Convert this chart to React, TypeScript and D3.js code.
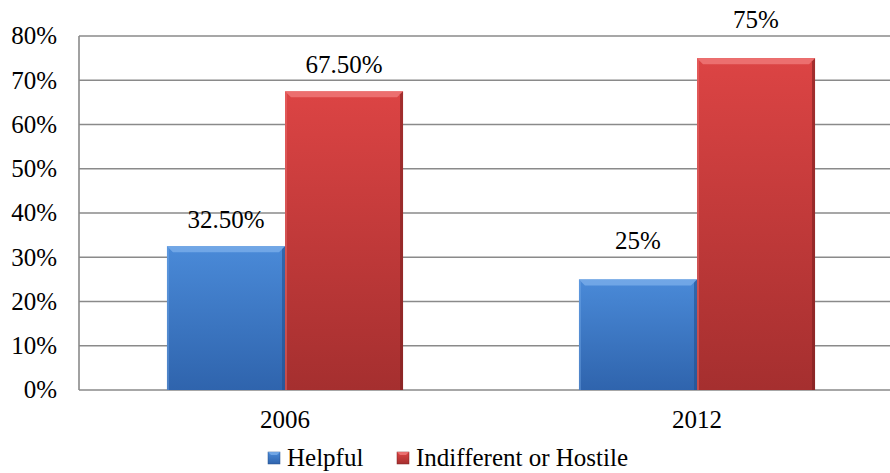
import React from 'react';
import * as d3 from 'd3';

const years = ['2006', '2012'];
const helpful = [32.5, 25];
const hostile = [67.5, 75];
const labelsHelpful = ['32.50%', '25%'];
const labelsHostile = ['67.50%', '75%'];
const seriesNames = ['Helpful', 'Indifferent or Hostile'];
const yTicks = [0, 10, 20, 30, 40, 50, 60, 70, 80];

const W = 890;
const H = 473;
const m = { left: 79, top: 36, bottom: 83 };

export default function App() {
  // plot area runs a little past the right edge of the window, as in the source
  const x = d3.scaleBand().domain(years).range([m.left, 903]).paddingInner(0.427).paddingOuter(0.2135);
  const inner = d3.scaleBand().domain(seriesNames).range([0, x.bandwidth()]);
  const y = d3.scaleLinear().domain([0, 80]).range([H - m.bottom, m.top]);
  const fs = 25;
  const colors = [
    { id: 'gBlue', top: '#4a8ad8', bottom: '#2f64ad', edge: '#7aaeea', dark: '#244f8c' },
    { id: 'gRed', top: '#dc4444', bottom: '#a52f2f', edge: '#f07a7a', dark: '#7c2020' },
  ];
  const series = [
    { name: seriesNames[0], values: helpful, labels: labelsHelpful, c: colors[0] },
    { name: seriesNames[1], values: hostile, labels: labelsHostile, c: colors[1] },
  ];
  const bev = 6;
  const labelGap = [18, 30];
  const legendX = [268, 397];
  const legendY = 452;

  return (
    <svg
      width={W}
      height={H}
      style={{ position: 'absolute', left: 0, top: 0, fontFamily: "'Liberation Serif', 'DejaVu Serif', serif", fontSize: fs }}
    >
      <defs>
        {colors.map((c) => (
          <linearGradient key={c.id} id={c.id} x1="0" y1="0" x2="0" y2="1">
            <stop offset="0%" stopColor={c.top} />
            <stop offset="100%" stopColor={c.bottom} />
          </linearGradient>
        ))}
      </defs>
      {yTicks.map((t) => (
        <g key={t}>
          <line x1={m.left} x2={W} y1={y(t)} y2={y(t)} stroke="#8a8a8a" strokeWidth={1.6} />
          <text x={57} y={y(t)} dy="0.33em" textAnchor="end" fill="#000">
            {t}%
          </text>
        </g>
      ))}
      <line x1={m.left} x2={m.left} y1={y(80)} y2={y(0)} stroke="#8a8a8a" strokeWidth={1.6} />
      {years.map((yr, i) => (
        <g key={yr}>
          {series.map((s) => {
            const bx = (x(yr) as number) + (inner(s.name) as number);
            const bw = inner.bandwidth();
            const top = y(s.values[i]);
            const bot = y(0);
            return (
              <g key={s.name}>
                <rect x={bx} y={top} width={bw} height={bot - top} fill={`url(#${s.c.id})`} />
                <polygon points={`${bx},${top} ${bx + bw},${top} ${bx + bw - bev},${top + bev} ${bx + bev},${top + bev}`} fill={s.c.edge} opacity={0.8} />
                <polygon points={`${bx + bw},${top} ${bx + bw},${bot} ${bx + bw - 3},${bot} ${bx + bw - 3},${top + 3}`} fill={s.c.dark} opacity={0.6} />
                <polygon points={`${bx},${top} ${bx},${bot} ${bx + 2},${bot} ${bx + 2},${top + 2}`} fill={s.c.edge} opacity={0.4} />
                <text x={bx + bw / 2} y={top - labelGap[i]} textAnchor="middle" fill="#000">
                  {s.labels[i]}
                </text>
              </g>
            );
          })}
          <text x={(x(yr) as number) + x.bandwidth() / 2} y={y(0) + 38} textAnchor="middle" fill="#000">
            {yr}
          </text>
        </g>
      ))}
      {series.map((s, i) => (
        <g key={s.name}>
          <rect x={legendX[i]} y={legendY} width={12} height={12} fill={`url(#${s.c.id})`} stroke={s.c.dark} strokeWidth={0.5} />
          <polygon points={`${legendX[i]},${legendY} ${legendX[i] + 12},${legendY} ${legendX[i] + 9},${legendY + 3} ${legendX[i] + 3},${legendY + 3}`} fill={s.c.edge} opacity={0.8} />
          <text x={legendX[i] + 19} y={legendY + 14} fill="#000">
            {s.name}
          </text>
        </g>
      ))}
    </svg>
  );
}
